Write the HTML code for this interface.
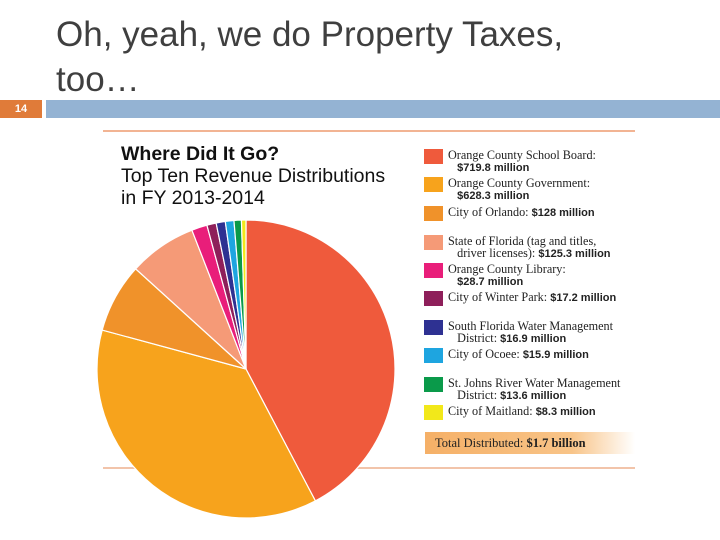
<!DOCTYPE html>
<html><head><meta charset="utf-8"><style>
body{margin:0;width:720px;height:540px;background:#fff;position:relative;overflow:hidden;font-family:"Liberation Sans",sans-serif}
.t{position:absolute;left:56px;top:12px;font-size:35px;line-height:45px;color:#3f3f3f}
.leg{position:absolute;left:424px;font-family:"Liberation Serif",serif;font-size:12.2px;line-height:12px;color:#222}
.leg i{position:absolute;left:0;top:0;width:19px;height:15px}
.leg span{position:absolute;left:24px;top:0;white-space:nowrap}
.leg b{font-family:"Liberation Sans",sans-serif;font-size:11px}
</style></head><body>
<div class="t">Oh, yeah, we do Property Taxes,<br>too…</div>
<div style="position:absolute;left:0;top:100px;width:42px;height:18px;background:#e07b39;color:#fff;font-size:11px;font-weight:bold;text-align:center;line-height:18px">14</div>
<div style="position:absolute;left:46px;top:100px;width:674px;height:18px;background:#94b3d3"></div>
<div style="position:absolute;left:103px;top:130px;width:532px;height:2px;background:#f2b493"></div>
<div style="position:absolute;left:103px;top:467px;width:532px;height:2px;background:#f2c4aa"></div>
<div style="position:absolute;left:121px;top:143px;font-size:19.5px;line-height:22px;color:#111"><b>Where Did It Go?</b><br>Top Ten Revenue Distributions<br>in FY 2013-2014</div>
<svg id="pie" width="720" height="540" style="position:absolute;left:0;top:0"></svg>
<div id="legend"></div>
<div style="position:absolute;left:425px;top:432px;width:200px;height:22px;background:linear-gradient(90deg,#f5b067 0%,#f8c488 70%,#fff 100%);font-family:'Liberation Serif',serif;font-size:12.5px;line-height:22px;padding-left:10px;color:#222">Total Distributed: <b>$1.7 billion</b></div>
<script>
const labels=["Orange County School Board:","Orange County Government:","City of Orlando:","State of Florida (tag and titles, driver licenses):","Orange County Library:","City of Winter Park:","South Florida Water Management District:","City of Ocoee:","St. Johns River Water Management District:","City of Maitland:"];
const valueText=["$719.8 million","$628.3 million","$128 million","$125.3 million","$28.7 million","$17.2 million","$16.9 million","$15.9 million","$13.6 million","$8.3 million"];
const values=[719.8,628.3,128,125.3,28.7,17.2,16.9,15.9,13.6,8.3];
const colors=["#ef5a3c","#f7a31c","#f0922a","#f59a77","#e91e7a","#8e1f5a","#2e3192","#1ea5e0","#0a9a4a","#f2e81a"];
const line1=["Orange County School Board:","Orange County Government:","City of Orlando: ","State of Florida (tag and titles,","Orange County Library:","City of Winter Park: ","South Florida Water Management","City of Ocoee: ","St. Johns River Water Management","City of Maitland: "];
const line2=["","","","driver licenses): ","","","District: ","","District: ",""];
const legendTop=[149,177,206,235,263,291,320,348,377,405];
const svg=document.getElementById('pie');const ns="http://www.w3.org/2000/svg";
const cx=246,cy=369,r=149;const total=values.reduce((a,b)=>a+b,0);
let a0=0;
values.forEach((v,i)=>{const a1=a0+v/total*2*Math.PI;
const x0=cx+r*Math.sin(a0),y0=cy-r*Math.cos(a0),x1=cx+r*Math.sin(a1),y1=cy-r*Math.cos(a1);
const p=document.createElementNS(ns,'path');
p.setAttribute('d',`M${cx},${cy}L${x0},${y0}A${r},${r} 0 ${a1-a0>Math.PI?1:0} 1 ${x1},${y1}Z`);
p.setAttribute('fill',colors[i]);p.setAttribute('stroke','#fff');p.setAttribute('stroke-width','1.2');


svg.appendChild(p);a0=a1;});
const lg=document.getElementById('legend');
values.forEach((v,i)=>{const d=document.createElement('div');d.className='leg';d.style.top=legendTop[i]+'px';


const sameLine=line1[i].endsWith(' ');
let html=`<i style="background:${colors[i]}"></i><span>${line1[i]}`;
if(sameLine) html+=`<b>${valueText[i]}</b>`;
else html+=`<br>&nbsp;&nbsp;&nbsp;${line2[i]}<b>${valueText[i]}</b>`;
d.innerHTML=html+'</span>';lg.appendChild(d);});
</script>
</body></html>
